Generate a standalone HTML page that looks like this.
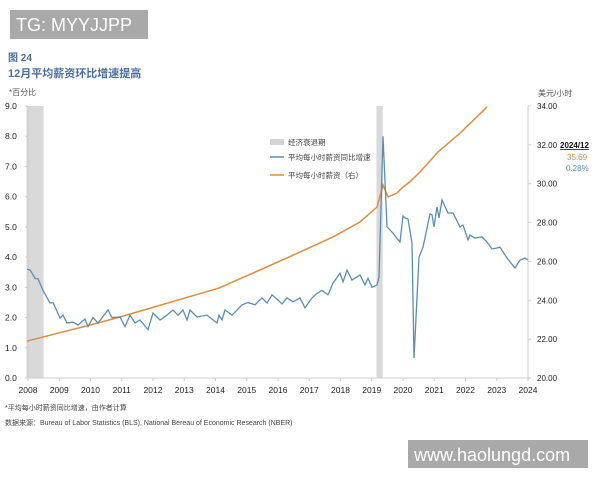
<!DOCTYPE html>
<html><head><meta charset="utf-8"><style>
body{margin:0;background:#fff;width:600px;height:480px;overflow:hidden;font-family:"Liberation Sans","Noto Sans CJK SC",sans-serif;}
svg{position:absolute;left:0;top:0}
</style></head><body>
<svg width="600" height="480" font-family="Liberation Sans, Noto Sans CJK SC, sans-serif">
<rect x="10" y="10" width="138" height="29" fill="#a9a9a9"/>
<text x="16" y="31" font-size="18" fill="#fff">TG: MYYJJPP</text>
<text x="8" y="61" font-size="10" fill="#4a6fa5" font-weight="bold">图 24</text>
<text x="8" y="77" font-size="11" fill="#4a6fa5" font-weight="bold">12月平均薪资环比增速提高</text>
<text x="9" y="95" font-size="8" fill="#555">*百分比</text>
<text x="538" y="96" font-size="8" fill="#555">美元/小时</text>
<g id="rec"></g>
<g id="axes"></g>
<g id="lines"></g>
<g>
<rect x="270" y="139" width="14" height="6" fill="#d3d3d3"/>
<text x="288" y="145" font-size="7.5" fill="#444">经济衰退期</text>
<line x1="270" y1="157" x2="284" y2="157" stroke="#5b8db8" stroke-width="1.5"/>
<text x="288" y="160" font-size="7.5" fill="#444">平均每小时薪资同比增速</text>
<line x1="270" y1="175" x2="284" y2="175" stroke="#e08c3c" stroke-width="1.5"/>
<text x="288" y="178" font-size="7.5" fill="#444">平均每小时薪资（右）</text>
</g>
<text x="560" y="148" font-size="8" font-weight="bold" fill="#111" text-decoration="underline">2024/12</text>
<text x="567" y="160" font-size="8" fill="#d08a4a">35.69</text>
<text x="566" y="171" font-size="8" fill="#5b8db8">0.28%</text>
<text x="5" y="410" font-size="7" fill="#444">*平均每小时薪资同比增速，由作者计算</text>
<text x="5" y="425" font-size="7" fill="#444">数据来源：Bureau of Labor Statistics (BLS), National Bereau of Economic Research (NBER)</text>
<rect x="408" y="440" width="180" height="28" fill="#a9a9a9"/>
<text x="414" y="461" font-size="18" fill="#fff">www.haolungd.com</text>
</svg>
<script>
const xTicks=[2008,2009,2010,2011,2012,2013,2014,2015,2016,2017,2018,2019,2020,2021,2022,2023,2024];
const leftTicks=[0,1,2,3,4,5,6,7,8,9];
const rightTicks=[20,22,24,26,28,30,32,34];
const recessions=[[2007.95,2008.5],[2019.15,2019.35]];
const growthT=[2007.968,2008.064,2008.224,2008.32,2008.48,2008.704,2008.8,2009.024,2009.12,2009.248,2009.44,2009.6,2009.824,2009.92,2010.08,2010.24,2010.56,2010.688,2010.944,2011.104,2011.264,2011.424,2011.584,2011.84,2012.0,2012.224,2012.448,2012.64,2012.8,2012.96,2013.088,2013.184,2013.408,2013.728,2014.048,2014.112,2014.208,2014.304,2014.528,2014.848,2015.04,2015.264,2015.488,2015.648,2015.808,2016.0,2016.128,2016.288,2016.48,2016.704,2016.864,2017.088,2017.248,2017.408,2017.6,2017.76,2017.984,2018.08,2018.208,2018.368,2018.624,2018.784,2018.88,2019.008,2019.168,2019.232,2019.36,2019.488,2019.648,2019.904,2020.0,2020.064,2020.16,2020.288,2020.352,2020.512,2020.64,2020.864,2020.928,2020.992,2021.088,2021.152,2021.248,2021.44,2021.6,2021.824,2021.92,2022.08,2022.144,2022.304,2022.528,2022.688,2022.848,2023.008,2023.104,2023.328,2023.584,2023.744,2023.904,2024.0];
const growthV=[3.6,3.58,3.3,3.28,2.9,2.48,2.5,1.98,2.08,1.82,1.85,1.75,1.95,1.7,2.0,1.82,2.25,2.0,2.02,1.7,2.08,1.82,1.92,1.6,2.15,1.92,2.08,2.25,2.08,2.25,1.92,2.25,2.02,2.08,1.82,2.08,1.92,2.25,2.08,2.42,2.5,2.42,2.65,2.48,2.75,2.58,2.45,2.65,2.52,2.65,2.32,2.65,2.8,2.9,2.75,3.14,3.47,3.18,3.57,3.24,3.41,3.08,3.3,3.0,3.08,3.34,8.0,5.0,4.83,4.5,5.36,5.3,5.26,4.47,0.66,4.0,4.33,5.43,5.4,5.0,5.66,5.3,5.89,5.46,5.46,5.0,5.06,4.57,4.73,4.63,4.67,4.5,4.27,4.3,4.33,3.97,3.64,3.9,3.97,3.9];
const wageT=[2007.968,2010.24,2010.944,2014.112,2015.2,2016.704,2017.76,2018.624,2019.168,2019.36,2019.52,2019.808,2020.0,2020.224,2020.544,2021.12,2021.824,2022.688];
const wageV=[21.9,22.83,23.14,24.63,25.4,26.48,27.26,28.03,28.8,29.93,29.32,29.52,29.83,30.1,30.6,31.63,32.6,33.95];
const NS='http://www.w3.org/2000/svg';
const X=t=>28+(t-2008)*31.25;
const YL=v=>378-v*30.22;
const YR=w=>378-(w-20)*19.43;
function mk(tag,attrs,parent){const e=document.createElementNS(NS,tag);for(const k in attrs)e.setAttribute(k,attrs[k]);document.getElementById(parent).appendChild(e);return e;}
recessions.forEach(r=>{const e=mk('rect',{x:X(r[0]),y:YL(9),width:X(r[1])-X(r[0]),height:YL(0)-YL(9),fill:'#d9d9d9'},'rec');

});
let e=mk('line',{x1:X(2008),y1:YL(0),x2:X(2024),y2:YL(0),stroke:'#ccc'},'axes');


e=mk('line',{x1:X(2008),y1:YL(0),x2:X(2008),y2:YL(9),stroke:'#ccc'},'axes');


e=mk('line',{x1:X(2024),y1:YL(0),x2:X(2024),y2:YL(9),stroke:'#ccc'},'axes');


xTicks.forEach(t=>{const l=mk('line',{x1:X(t),y1:YL(0),x2:X(t),y2:YL(0)+3,stroke:'#ccc'},'axes');


const tx=mk('text',{x:X(t),y:393,'font-size':8.5,'text-anchor':'middle',fill:'#222'},'axes');tx.textContent=t;

});
leftTicks.forEach(v=>{const l=mk('line',{x1:X(2008)-3,y1:YL(v),x2:X(2008),y2:YL(v),stroke:'#ccc'},'axes');


const tx=mk('text',{x:5,y:YL(v)+3,'font-size':8.5,fill:'#222'},'axes');tx.textContent=v.toFixed(1);

});
rightTicks.forEach(w=>{const l=mk('line',{x1:X(2024),y1:YR(w),x2:X(2024)+3,y2:YR(w),stroke:'#ccc'},'axes');


const tx=mk('text',{x:537,y:YR(w)+3,'font-size':8,fill:'#222'},'axes');tx.textContent=w.toFixed(2);

});
e=mk('polyline',{points:wageT.map((t,i)=>X(t)+','+YR(wageV[i])).join(' '),fill:'none',stroke:'#e08c3c','stroke-width':1.5},'lines');


e=mk('polyline',{points:growthT.map((t,i)=>X(t)+','+YL(growthV[i])).join(' '),fill:'none',stroke:'#5b8db8','stroke-width':1.3},'lines');


</script>
</body></html>
